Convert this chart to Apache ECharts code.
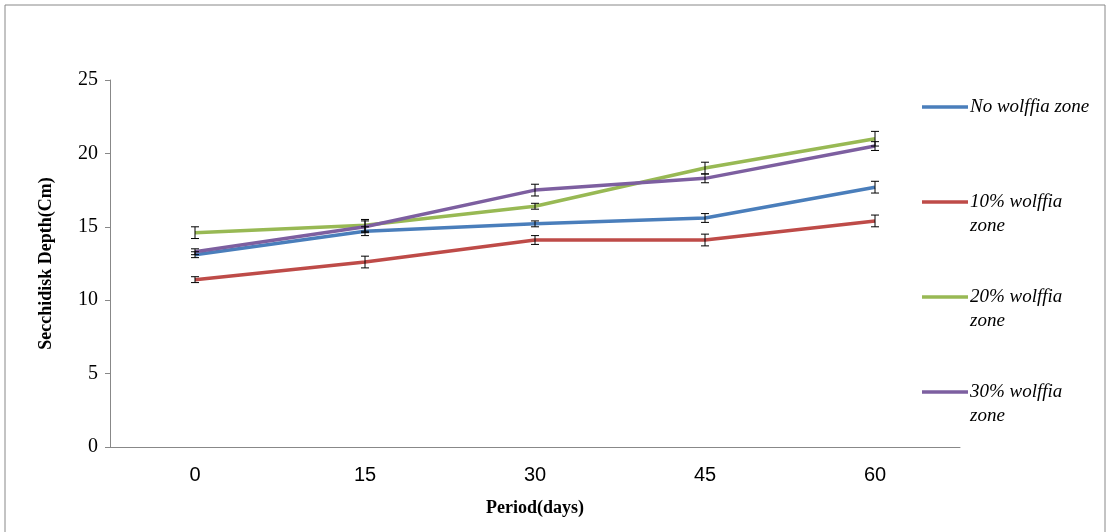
<!DOCTYPE html>
<html><head><meta charset="utf-8">
<script src="https://cdn.jsdelivr.net/npm/echarts@6/dist/echarts.min.js"></script>
<style>html,body{margin:0;padding:0;background:#fff}#c{width:1111px;height:532px}</style>
</head><body><div id="c"></div>
<script>
var periods = ['0', '15', '30', '45', '60'];
var noZone = [13.1, 14.7, 15.2, 15.6, 17.7];
var zone10 = [11.4, 12.6, 14.1, 14.1, 15.4];
var zone20 = [14.6, 15.1, 16.4, 19.0, 21.0];
var zone30 = [13.3, 15.0, 17.5, 18.3, 20.5];
var errNo = [0.2, 0.3, 0.2, 0.3, 0.4];
var err10 = [0.2, 0.4, 0.3, 0.4, 0.4];
var err20 = [0.4, 0.4, 0.2, 0.4, 0.5];
var err30 = [0.2, 0.4, 0.4, 0.3, 0.3];
var names = ['No wolffia zone', '10% wolffia\nzone', '20% wolffia\nzone', '30% wolffia\nzone'];
var colors = ['#4a7ebb', '#be4b48', '#98b954', '#7d5fa0'];
var values = [noZone, zone10, zone20, zone30];
var errs = [errNo, err10, err20, err30];

var chart = echarts.init(document.getElementById('c'));
var series = [];
values.forEach(function (v, i) {
    series.push({
        name: names[i], type: 'line', data: v, symbol: 'none',
        lineStyle: { color: colors[i], width: 3.5 }, itemStyle: { color: colors[i] }, z: 3
    });
    series.push({
        type: 'custom', z: 4,
        data: v.map(function (y, k) { return [k, y - errs[i][k], y + errs[i][k]]; }),
        renderItem: function (params, api) {
            var lo = api.coord([api.value(0), api.value(1)]);
            var hi = api.coord([api.value(0), api.value(2)]);
            var s = { stroke: '#000', lineWidth: 1 };
            return { type: 'group', children: [
                { type: 'line', shape: { x1: lo[0], y1: lo[1], x2: hi[0], y2: hi[1] }, style: s },
                { type: 'line', shape: { x1: lo[0] - 4, y1: lo[1], x2: lo[0] + 4, y2: lo[1] }, style: s },
                { type: 'line', shape: { x1: hi[0] - 4, y1: hi[1], x2: hi[0] + 4, y2: hi[1] }, style: s }
            ] };
        }
    });
});

// legend drawn as graphic so the line marker sits on the first text line
var legendTops = [107, 202, 297, 392];
var graphic = [{ type: 'rect', shape: { x: 5, y: 5, width: 1100, height: 540 }, style: { fill: 'none', stroke: '#888', lineWidth: 1 } }];
names.forEach(function (n, i) {
    graphic.push({ type: 'line', shape: { x1: 922, y1: legendTops[i], x2: 968, y2: legendTops[i] }, style: { stroke: colors[i], lineWidth: 3.5 } });
    graphic.push({ type: 'text', x: 970, y: legendTops[i] - 12, style: { text: n, fill: '#000', font: 'italic 19px "Liberation Serif"', lineHeight: 24 } });
});

chart.setOption({
    animation: false,
    grid: { left: 110, right: 151, top: 80, bottom: 85 },
    xAxis: {
        type: 'category', data: periods,
        name: 'Period(days)', nameLocation: 'middle', nameGap: 52,
        nameTextStyle: { fontFamily: 'Liberation Serif', fontWeight: 'bold', fontSize: 18, color: '#000' },
        axisLine: { lineStyle: { color: '#888' } },
        axisTick: { show: false },
        axisLabel: { fontFamily: 'Liberation Sans', fontSize: 20, color: '#000', margin: 18 }
    },
    yAxis: {
        type: 'value', min: 0, max: 25, interval: 5,
        name: 'Secchidisk Depth(Cm)', nameLocation: 'middle', nameGap: 55,
        nameTextStyle: { fontFamily: 'Liberation Serif', fontWeight: 'bold', fontSize: 18, color: '#000' },
        axisLine: { show: true, lineStyle: { color: '#888' } },
        axisTick: { show: true, lineStyle: { color: '#888' } },
        splitLine: { show: false },
        axisLabel: { fontFamily: 'Liberation Serif', fontSize: 20, color: '#000', margin: 12 }
    },
    graphic: graphic,
    series: series
});
</script></body></html>
